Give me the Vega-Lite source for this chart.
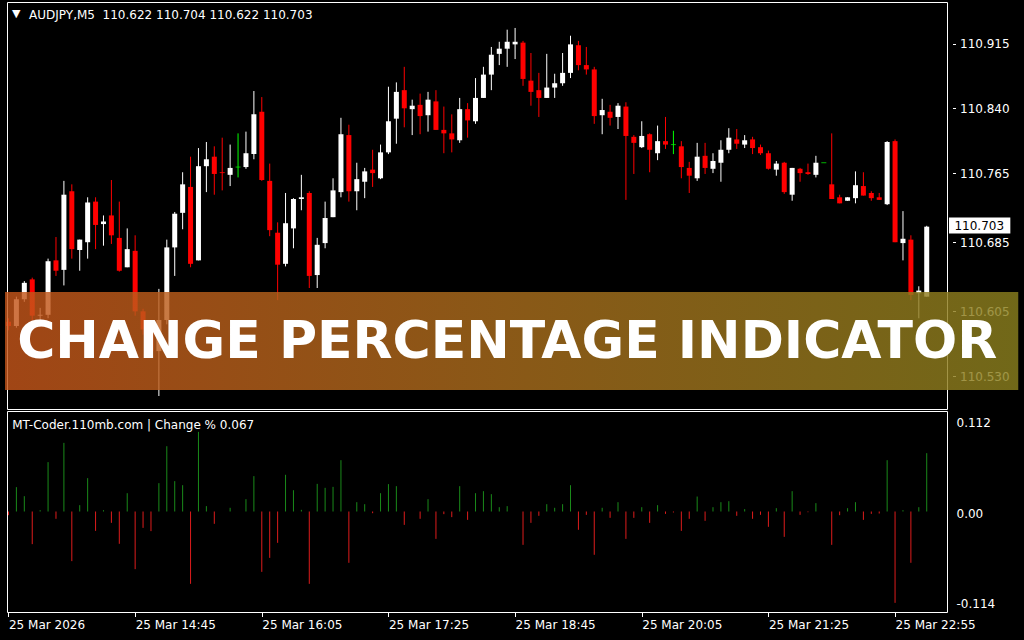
{
"$schema":"https://vega.github.io/schema/vega-lite/v6.json",
"width":1024,"height":640,
"autosize":{"type":"none"},
"padding":0,
"background":"#000000",
"config":{"view":{"stroke":null},"axis":{"grid":false,"labelFont":"DejaVu Sans","labelFontSize":12,"labelColor":"#ffffff","tickColor":"#ffffff","domain":false}},
"datasets":{"bars":[
{"i":0,"o":110.593,"h":110.597,"l":110.583,"c":110.588,"p":-0.0042},
{"i":1,"o":110.588,"h":110.622,"l":110.586,"c":110.619,"p":0.0277},
{"i":2,"o":110.619,"h":110.640,"l":110.616,"c":110.638,"p":0.0174},
{"i":3,"o":110.642,"h":110.644,"l":110.595,"c":110.600,"p":-0.0371},
{"i":4,"o":110.600,"h":110.609,"l":110.593,"c":110.601,"p":0.0015},
{"i":5,"o":110.601,"h":110.666,"l":110.597,"c":110.663,"p":0.0561},
{"i":6,"o":110.664,"h":110.691,"l":110.646,"c":110.652,"p":-0.0083},
{"i":7,"o":110.653,"h":110.756,"l":110.635,"c":110.740,"p":0.0780},
{"i":8,"o":110.744,"h":110.752,"l":110.666,"c":110.677,"p":-0.0564},
{"i":9,"o":110.676,"h":110.688,"l":110.652,"c":110.688,"p":0.0072},
{"i":10,"o":110.685,"h":110.737,"l":110.666,"c":110.731,"p":0.0379},
{"i":11,"o":110.732,"h":110.737,"l":110.677,"c":110.705,"p":-0.0220},
{"i":12,"o":110.706,"h":110.716,"l":110.681,"c":110.709,"p":0.0015},
{"i":13,"o":110.716,"h":110.757,"l":110.683,"c":110.693,"p":-0.0129},
{"i":14,"o":110.690,"h":110.732,"l":110.651,"c":110.652,"p":-0.0367},
{"i":15,"o":110.656,"h":110.701,"l":110.656,"c":110.677,"p":0.0208},
{"i":16,"o":110.675,"h":110.693,"l":110.600,"c":110.605,"p":-0.0655},
{"i":17,"o":110.605,"h":110.608,"l":110.578,"c":110.584,"p":-0.0186},
{"i":18,"o":110.584,"h":110.587,"l":110.553,"c":110.559,"p":-0.0223},
{"i":19,"o":110.559,"h":110.631,"l":110.507,"c":110.595,"p":0.0322},
{"i":20,"o":110.595,"h":110.688,"l":110.590,"c":110.679,"p":0.0742},
{"i":21,"o":110.679,"h":110.720,"l":110.646,"c":110.718,"p":0.0345},
{"i":22,"o":110.719,"h":110.766,"l":110.700,"c":110.752,"p":0.0299},
{"i":23,"o":110.749,"h":110.784,"l":110.656,"c":110.660,"p":-0.0822},
{"i":24,"o":110.664,"h":110.794,"l":110.664,"c":110.773,"p":0.0905},
{"i":25,"o":110.773,"h":110.801,"l":110.743,"c":110.781,"p":0.0061},
{"i":26,"o":110.784,"h":110.796,"l":110.740,"c":110.764,"p":-0.0140},
{"i":27,"o":110.766,"h":110.806,"l":110.745,"c":110.765,"p":0},
{"i":28,"o":110.763,"h":110.798,"l":110.750,"c":110.771,"p":0.0042},
{"i":29,"o":110.772,"h":110.811,"l":110.760,"c":110.772,"p":0},
{"i":30,"o":110.772,"h":110.813,"l":110.770,"c":110.788,"p":0.0140},
{"i":31,"o":110.787,"h":110.860,"l":110.781,"c":110.833,"p":0.0402},
{"i":32,"o":110.836,"h":110.853,"l":110.756,"c":110.757,"p":-0.0686},
{"i":33,"o":110.756,"h":110.776,"l":110.692,"c":110.699,"p":-0.0527},
{"i":34,"o":110.696,"h":110.708,"l":110.618,"c":110.659,"p":-0.0356},
{"i":35,"o":110.660,"h":110.742,"l":110.657,"c":110.707,"p":0.0417},
{"i":36,"o":110.701,"h":110.736,"l":110.678,"c":110.735,"p":0.0242},
{"i":37,"o":110.735,"h":110.763,"l":110.722,"c":110.737,"p":0.0019},
{"i":38,"o":110.742,"h":110.744,"l":110.632,"c":110.646,"p":-0.0822},
{"i":39,"o":110.647,"h":110.690,"l":110.632,"c":110.682,"p":0.0314},
{"i":40,"o":110.684,"h":110.732,"l":110.678,"c":110.713,"p":0.0269},
{"i":41,"o":110.714,"h":110.759,"l":110.714,"c":110.745,"p":0.0280},
{"i":42,"o":110.743,"h":110.829,"l":110.737,"c":110.810,"p":0.0583},
{"i":43,"o":110.809,"h":110.821,"l":110.732,"c":110.744,"p":-0.0583},
{"i":44,"o":110.744,"h":110.777,"l":110.722,"c":110.758,"p":0.0106},
{"i":45,"o":110.755,"h":110.771,"l":110.736,"c":110.767,"p":0.0083},
{"i":46,"o":110.769,"h":110.792,"l":110.749,"c":110.765,"p":-0.0019},
{"i":47,"o":110.759,"h":110.798,"l":110.758,"c":110.789,"p":0.0208},
{"i":48,"o":110.789,"h":110.865,"l":110.787,"c":110.825,"p":0.0311},
{"i":49,"o":110.828,"h":110.870,"l":110.799,"c":110.859,"p":0.0288},
{"i":50,"o":110.861,"h":110.888,"l":110.818,"c":110.840,"p":-0.0152},
{"i":51,"o":110.839,"h":110.850,"l":110.809,"c":110.843,"p":0},
{"i":52,"o":110.844,"h":110.857,"l":110.810,"c":110.831,"p":-0.0083},
{"i":53,"o":110.832,"h":110.859,"l":110.813,"c":110.850,"p":0.0140},
{"i":54,"o":110.848,"h":110.861,"l":110.815,"c":110.815,"p":-0.0311},
{"i":55,"o":110.815,"h":110.842,"l":110.788,"c":110.811,"p":-0.0030},
{"i":56,"o":110.811,"h":110.833,"l":110.789,"c":110.804,"p":-0.0064},
{"i":57,"o":110.803,"h":110.852,"l":110.800,"c":110.839,"p":0.0288},
{"i":58,"o":110.839,"h":110.846,"l":110.806,"c":110.826,"p":-0.0095},
{"i":59,"o":110.825,"h":110.875,"l":110.822,"c":110.852,"p":0.0208},
{"i":60,"o":110.852,"h":110.888,"l":110.852,"c":110.879,"p":0.0231},
{"i":61,"o":110.879,"h":110.911,"l":110.861,"c":110.902,"p":0.0197},
{"i":62,"o":110.903,"h":110.917,"l":110.890,"c":110.909,"p":0.0049},
{"i":63,"o":110.909,"h":110.931,"l":110.888,"c":110.917,"p":0.0061},
{"i":64,"o":110.914,"h":110.933,"l":110.897,"c":110.917,"p":0},
{"i":65,"o":110.916,"h":110.918,"l":110.866,"c":110.874,"p":-0.0379},
{"i":66,"o":110.872,"h":110.904,"l":110.843,"c":110.859,"p":-0.0129},
{"i":67,"o":110.861,"h":110.881,"l":110.830,"c":110.852,"p":-0.0049},
{"i":68,"o":110.852,"h":110.903,"l":110.852,"c":110.864,"p":0.0083},
{"i":69,"o":110.864,"h":110.880,"l":110.852,"c":110.869,"p":0.0042},
{"i":70,"o":110.869,"h":110.904,"l":110.866,"c":110.881,"p":0.0083},
{"i":71,"o":110.881,"h":110.924,"l":110.875,"c":110.914,"p":0.0299},
{"i":72,"o":110.913,"h":110.918,"l":110.884,"c":110.890,"p":-0.0208},
{"i":73,"o":110.890,"h":110.911,"l":110.879,"c":110.885,"p":-0.0038},
{"i":74,"o":110.885,"h":110.888,"l":110.822,"c":110.831,"p":-0.0492},
{"i":75,"o":110.832,"h":110.851,"l":110.810,"c":110.838,"p":0.0042},
{"i":76,"o":110.836,"h":110.844,"l":110.820,"c":110.829,"p":-0.0072},
{"i":77,"o":110.830,"h":110.846,"l":110.816,"c":110.843,"p":0.0106},
{"i":78,"o":110.842,"h":110.847,"l":110.734,"c":110.808,"p":-0.0311},
{"i":79,"o":110.807,"h":110.809,"l":110.764,"c":110.800,"p":-0.0072},
{"i":80,"o":110.795,"h":110.825,"l":110.794,"c":110.808,"p":0.0049},
{"i":81,"o":110.810,"h":110.811,"l":110.766,"c":110.792,"p":-0.0129},
{"i":82,"o":110.788,"h":110.820,"l":110.780,"c":110.802,"p":0.0072},
{"i":83,"o":110.802,"h":110.830,"l":110.793,"c":110.798,"p":-0.0027},
{"i":84,"o":110.798,"h":110.814,"l":110.787,"c":110.798,"p":-0.0011},
{"i":85,"o":110.796,"h":110.802,"l":110.759,"c":110.772,"p":-0.0220},
{"i":86,"o":110.771,"h":110.778,"l":110.742,"c":110.762,"p":-0.0083},
{"i":87,"o":110.759,"h":110.800,"l":110.756,"c":110.784,"p":0.0170},
{"i":88,"o":110.785,"h":110.800,"l":110.764,"c":110.771,"p":-0.0106},
{"i":89,"o":110.770,"h":110.788,"l":110.765,"c":110.779,"p":0.0049},
{"i":90,"o":110.777,"h":110.803,"l":110.755,"c":110.792,"p":0.0106},
{"i":91,"o":110.792,"h":110.817,"l":110.788,"c":110.806,"p":0.0117},
{"i":92,"o":110.804,"h":110.816,"l":110.793,"c":110.799,"p":-0.0049},
{"i":93,"o":110.798,"h":110.809,"l":110.794,"c":110.803,"p":0.0027},
{"i":94,"o":110.804,"h":110.807,"l":110.787,"c":110.794,"p":-0.0083},
{"i":95,"o":110.795,"h":110.798,"l":110.786,"c":110.788,"p":-0.0038},
{"i":96,"o":110.788,"h":110.791,"l":110.769,"c":110.770,"p":-0.0174},
{"i":97,"o":110.769,"h":110.779,"l":110.762,"c":110.776,"p":0.0038},
{"i":98,"o":110.777,"h":110.778,"l":110.741,"c":110.743,"p":-0.0288},
{"i":99,"o":110.740,"h":110.771,"l":110.733,"c":110.771,"p":0.0231},
{"i":100,"o":110.770,"h":110.771,"l":110.755,"c":110.765,"p":-0.0038},
{"i":101,"o":110.766,"h":110.776,"l":110.763,"c":110.764,"p":-0.0008},
{"i":102,"o":110.763,"h":110.785,"l":110.760,"c":110.777,"p":0.0095},
{"i":103,"o":110.777,"h":110.777,"l":110.777,"c":110.777,"p":0},
{"i":104,"o":110.752,"h":110.811,"l":110.735,"c":110.735,"p":-0.0379},
{"i":105,"o":110.737,"h":110.740,"l":110.730,"c":110.730,"p":-0.0042},
{"i":106,"o":110.733,"h":110.737,"l":110.733,"c":110.737,"p":0.0038},
{"i":107,"o":110.736,"h":110.767,"l":110.730,"c":110.751,"p":0.0106},
{"i":108,"o":110.750,"h":110.766,"l":110.739,"c":110.739,"p":-0.0095},
{"i":109,"o":110.742,"h":110.744,"l":110.733,"c":110.736,"p":-0.0027},
{"i":110,"o":110.737,"h":110.742,"l":110.734,"c":110.734,"p":-0.0023},
{"i":111,"o":110.729,"h":110.802,"l":110.728,"c":110.801,"p":0.0583},
{"i":112,"o":110.802,"h":110.804,"l":110.685,"c":110.685,"p":-0.1038},
{"i":113,"o":110.684,"h":110.721,"l":110.664,"c":110.689,"p":0.0015},
{"i":114,"o":110.688,"h":110.693,"l":110.618,"c":110.624,"p":-0.0583},
{"i":115,"o":110.626,"h":110.634,"l":110.597,"c":110.629,"p":0.0049},
{"i":116,"o":110.622,"h":110.704,"l":110.622,"c":110.703,"p":0.0663}
]},
"resolve":{"scale":{"y":"independent"},"axis":{"y":"independent"}},
"layer":[
{"layer":[
 {"data":{"name":"bars"},
  "mark":{"type":"rule","strokeWidth":1},
  "encoding":{
   "x":{"field":"i","type":"quantitative","scale":{"domain":[-0.125,118.625],"range":[2.5,952.5],"nice":false,"zero":false},
        "axis":{"orient":"bottom","offset":-27.5,"values":[0,16,32,48,64,80,96,112],"labelExpr":"['25 Mar 2026','25 Mar 14:45','25 Mar 16:05','25 Mar 17:25','25 Mar 18:45','25 Mar 20:05','25 Mar 21:25','25 Mar 22:55'][round(datum.value/16)]","labelAlign":"left","labelBaseline":"top","tickSize":4,"labelPadding":3,"labelFlush":false,"labelOverlap":false,"labelBound":false,"title":null,"domain":false}},
   "y":{"field":"l","type":"quantitative","scale":{"domain":[110.49139,110.96246],"range":[409.5,2.5],"nice":false,"zero":false},
        "axis":{"orient":"right","offset":-71.5,"values":[110.915,110.84,110.765,110.685,110.605,110.53],"format":".3f","tickSize":3,"labelPadding":4,"labelBaseline":"middle","labelFlush":false,"labelOverlap":false,"labelBound":false,"title":null,"domain":false}},
   "y2":{"field":"h"},
   "color":{"condition":[{"test":"datum.c > datum.o","value":"#ffffff"},{"test":"datum.c == datum.o","value":"#00ff00"}],"value":"#ff0000"}
  }},
 {"data":{"name":"bars"},
  "transform":[{"filter":"datum.o != datum.c"}],
  "mark":{"type":"bar","width":5},
  "encoding":{
   "x":{"field":"i","type":"quantitative","scale":{"domain":[-0.125,118.625],"range":[2.5,952.5],"nice":false,"zero":false}},
   "y":{"field":"o","type":"quantitative","scale":{"domain":[110.49139,110.96246],"range":[409.5,2.5],"nice":false,"zero":false}},
   "y2":{"field":"c"},
   "color":{"condition":{"test":"datum.c > datum.o","value":"#ffffff"},"value":"#ff0000"}
  }},
 {"data":{"name":"bars"},
  "transform":[{"filter":"datum.o == datum.c"}],
  "mark":{"type":"tick","orient":"horizontal","thickness":1,"color":"#00ff00"},
  "encoding":{
   "x":{"field":"i","type":"quantitative","scale":{"domain":[-0.125,118.625],"range":[2.5,952.5],"nice":false,"zero":false}},
   "y":{"field":"o","type":"quantitative","scale":{"domain":[110.49139,110.96246],"range":[409.5,2.5],"nice":false,"zero":false}},
   "size":{"value":5}
  }},
 {"data":{"values":[{}]},
  "mark":{"type":"rect","fill":"transparent","stroke":"#ffffff","strokeWidth":1},
  "encoding":{
   "x":{"datum":-0.125,"type":"quantitative","scale":{"domain":[-0.125,118.625],"range":[2.5,952.5],"nice":false,"zero":false}},"x2":{"datum":118.625},
   "y":{"datum":110.49139,"type":"quantitative","scale":{"domain":[110.49139,110.96246],"range":[409.5,2.5],"nice":false,"zero":false}},"y2":{"datum":110.96246}
  }},
 {"data":{"values":[{}]},
  "mark":{"type":"text","font":"DejaVu Sans","fontSize":11,"color":"#ffffff","align":"left","baseline":"alphabetic"},
  "encoding":{
   "x":{"datum":0.4375,"type":"quantitative","scale":{"domain":[-0.125,118.625],"range":[2.5,952.5],"nice":false,"zero":false}},
   "y":{"datum":110.9451,"type":"quantitative","scale":{"domain":[110.49139,110.96246],"range":[409.5,2.5],"nice":false,"zero":false}},
   "text":{"value":"▼"}
  }},
 {"data":{"values":[{}]},
  "mark":{"type":"text","font":"DejaVu Sans","fontSize":12,"color":"#ffffff","align":"left","baseline":"alphabetic"},
  "encoding":{
   "x":{"datum":2.6,"type":"quantitative","scale":{"domain":[-0.125,118.625],"range":[2.5,952.5],"nice":false,"zero":false}},
   "y":{"datum":110.94336,"type":"quantitative","scale":{"domain":[110.49139,110.96246],"range":[409.5,2.5],"nice":false,"zero":false}},
   "text":{"value":"AUDJPY,M5\u00a0 110.622 110.704 110.622 110.703"}
  }},
 {"data":{"values":[{}]},
  "mark":{"type":"rect","color":"#ffffff"},
  "encoding":{
   "x":{"datum":118.8125,"type":"quantitative","scale":{"domain":[-0.125,118.625],"range":[2.5,952.5],"nice":false,"zero":false}},"x2":{"datum":126.5625},
   "y":{"datum":110.6951,"type":"quantitative","scale":{"domain":[110.49139,110.96246],"range":[409.5,2.5],"nice":false,"zero":false}},"y2":{"datum":110.7136}
  }},
 {"data":{"values":[{}]},
  "mark":{"type":"text","font":"DejaVu Sans","fontSize":12,"color":"#000000","align":"left","baseline":"middle"},
  "encoding":{
   "x":{"datum":119.5,"type":"quantitative","scale":{"domain":[-0.125,118.625],"range":[2.5,952.5],"nice":false,"zero":false}},
   "y":{"datum":110.70435,"type":"quantitative","scale":{"domain":[110.49139,110.96246],"range":[409.5,2.5],"nice":false,"zero":false}},
   "text":{"value":"110.703"}
  }},
 {"data":{"values":[{}]},
  "mark":{"type":"rect","opacity":0.82,"fill":{"gradient":"linear","x1":0,"y1":0,"x2":1,"y2":0,"stops":[{"offset":0,"color":"#c4551a"},{"offset":0.5,"color":"#a86c1c"},{"offset":1,"color":"#8a7f1e"}]}},
  "encoding":{
   "x":{"datum":-0.4375,"type":"quantitative","scale":{"domain":[-0.125,118.625],"range":[2.5,952.5],"nice":false,"zero":false}},"x2":{"datum":127.5625},
   "y":{"datum":110.51396,"type":"quantitative","scale":{"domain":[110.49139,110.96246],"range":[409.5,2.5],"nice":false,"zero":false}},"y2":{"datum":110.62739}
  }},
 {"data":{"values":[{}]},
  "mark":{"type":"text","font":"DejaVu Sans","fontWeight":"bold","fontSize":52,"color":"#ffffff","align":"center","baseline":"alphabetic"},
  "encoding":{
   "x":{"datum":63,"type":"quantitative","scale":{"domain":[-0.125,118.625],"range":[2.5,952.5],"nice":false,"zero":false}},
   "y":{"datum":110.55065,"type":"quantitative","scale":{"domain":[110.49139,110.96246],"range":[409.5,2.5],"nice":false,"zero":false}},
   "text":{"value":"CHANGE PERCENTAGE INDICATOR"}
  }}
]},
{"layer":[
 {"data":{"name":"bars"},
  "mark":{"type":"rule","strokeWidth":1},
  "encoding":{
   "x":{"field":"i","type":"quantitative","scale":{"domain":[-0.125,118.625],"range":[2.5,952.5],"nice":false,"zero":false}},
   "y":{"field":"p","type":"quantitative","scale":{"domain":[-0.11477,0.11364],"range":[612.5,411.5],"nice":false,"zero":false},
        "axis":{"orient":"right","offset":-71.5,"values":[0.112,0,-0.114],"labelExpr":"datum.value == 0 ? '0.00' : (datum.value < 0 ? '-' + format(-datum.value, '.3f') : format(datum.value, '.3f'))","ticks":false,"tickSize":0,"labelPadding":3.5,"labelOffset":1.5,"labelFlush":3,"labelFlushOffset":-3,"labelOverlap":false,"labelBound":false,"title":null,"domain":false}},
   "y2":{"datum":0},
   "color":{"condition":{"test":"datum.p >= 0","value":"#1a8a1a"},"value":"#dd1c1c"}
  }},
 {"data":{"values":[{}]},
  "mark":{"type":"rect","fill":"transparent","stroke":"#ffffff","strokeWidth":1},
  "encoding":{
   "x":{"datum":-0.125,"type":"quantitative","scale":{"domain":[-0.125,118.625],"range":[2.5,952.5],"nice":false,"zero":false}},"x2":{"datum":118.625},
   "y":{"datum":-0.11477,"type":"quantitative","scale":{"domain":[-0.11477,0.11364],"range":[612.5,411.5],"nice":false,"zero":false}},"y2":{"datum":0.11364}
  }},
 {"data":{"values":[{}]},
  "mark":{"type":"text","font":"DejaVu Sans","fontSize":12,"color":"#ffffff","align":"left","baseline":"alphabetic"},
  "encoding":{
   "x":{"datum":0.475,"type":"quantitative","scale":{"domain":[-0.125,118.625],"range":[2.5,952.5],"nice":false,"zero":false}},
   "y":{"datum":0.09375,"type":"quantitative","scale":{"domain":[-0.11477,0.11364],"range":[612.5,411.5],"nice":false,"zero":false}},
   "text":{"value":"MT-Coder.110mb.com | Change % 0.067"}
  }}
]}
]
}
